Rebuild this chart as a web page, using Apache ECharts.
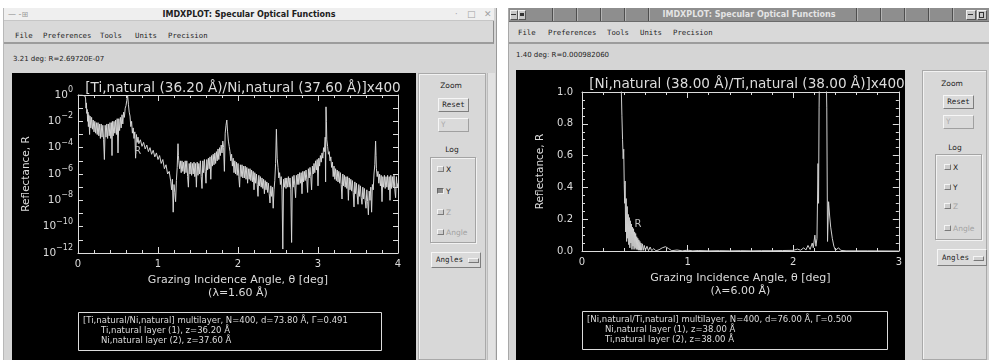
<!DOCTYPE html>
<html>
<head>
<meta charset="utf-8">
<title>IMDXPLOT: Specular Optical Functions</title>
<script src="https://cdn.jsdelivr.net/npm/echarts@6.0.0/dist/echarts.min.js"></script>
<style>
  html, body { margin: 0; padding: 0; }
  body { width: 989px; height: 360px; position: relative; overflow: hidden; background: #fff; font-family: "DejaVu Sans", sans-serif; }
  .a { position: absolute; white-space: nowrap; }
  .win { position: absolute; background: #d5d5d5; }
  .menu { position: absolute; font: 7.3px "DejaVu Sans Mono", monospace; color: #1e1e1e; line-height: 10px; }
  .status { position: absolute; font: 7px "DejaVu Sans", sans-serif; color: #222; line-height: 9px; }
  .panel { position: absolute; background: #d8d8d8; border: 1px solid #a9a9a9; box-shadow: inset 1px 1px 0 #f2f2f2; box-sizing: border-box; }
  .lbl { position: absolute; font: 7.5px "DejaVu Sans", sans-serif; color: #222; text-align: center; line-height: 9px; }
  .btn { position: absolute; background: #dadada; border: 1px solid; border-color: #f6f6f6 #7e7e7e #7e7e7e #f6f6f6; box-sizing: border-box;
         font: 7.5px "DejaVu Sans Mono", monospace; color: #1e1e1e; text-align: center; }
  .btn.off { color: #a8a8a8; border-color: #f6f6f6 #a0a0a0 #a0a0a0 #f6f6f6; text-align: left; padding-left: 2px; }
  .group { position: absolute; border: 1px solid #a4a4a4; box-shadow: 1px 1px 0 #f2f2f2, inset 1px 1px 0 #f2f2f2; box-sizing: border-box; }
  .chk { position: absolute; width: 7px; height: 6px; background: #cdcdcd; border: 1px solid; border-color: #f4f4f4 #7a7a7a #7a7a7a #f4f4f4; box-sizing: border-box; }
  .chk.on { background: #8c8c8c; border-color: #666 #eee #eee #666; }
  .ck { position: absolute; font: 7.5px "DejaVu Sans", sans-serif; color: #222; line-height: 9px; }
  .ck.off { color: #a2a2a2; }
  .tb { position: absolute; width: 6px; height: 8px; background: #c8c8c8; border: 1px solid; border-color: #f0f0f0 #555 #555 #f0f0f0; }
  .chart { position: absolute; background: #000; }
</style>
</head>
<body>

<!-- left window -->
<div class="win" style="left:3px;top:8px;width:492px;height:352px;border-left:1px solid #b8b8b8;border-right:1px solid #9a9a9a;"></div>
<div class="a" style="left:4px;top:8px;width:490px;height:12px;background:#efefef;border-bottom:1px solid #c6c6c6;"></div>
<div class="a" style="left:4px;top:8px;width:490px;text-align:center;font:bold 8px 'DejaVu Sans';line-height:13px;color:#202020;">IMDXPLOT: Specular Optical Functions</div>
<div class="a" style="left:8px;top:8px;font:8px 'DejaVu Sans';line-height:13px;color:#9a9a9a;">— -⊞</div>
<div class="a" style="left:455px;top:8px;font:8px 'DejaVu Sans';line-height:13px;color:#a0a0a0;">·</div>
<div class="a" style="left:467px;top:8px;font:9px 'DejaVu Sans';line-height:13px;color:#a0a0a0;">□</div>
<div class="a" style="left:484px;top:8px;font:9px 'DejaVu Sans';line-height:13px;color:#a0a0a0;">✕</div>
<div class="a" style="left:4px;top:21px;width:489px;height:21px;background:#d9d9d9;border-bottom:2px solid #9c9c9c;border-right:1px solid #8c8c8c;"></div>
<div class="menu" style="left:15px;top:31px;">File</div>
<div class="menu" style="left:43px;top:31px;">Preferences</div>
<div class="menu" style="left:100px;top:31px;">Tools</div>
<div class="menu" style="left:135px;top:31px;">Units</div>
<div class="menu" style="left:168px;top:31px;">Precision</div>
<div class="status" style="left:13px;top:55px;">3.21 deg: R=2.69720E-07</div>

<div class="panel" style="left:418px;top:73px;width:68px;height:287px;"></div>
<div class="lbl" style="left:436px;top:81px;width:30px;">Zoom</div>
<div class="btn" style="left:438px;top:98px;width:31px;height:14px;line-height:12px;">Reset</div>
<div class="btn off" style="left:438px;top:118px;width:31px;height:14px;line-height:12px;">Y</div>
<div class="lbl" style="left:437px;top:145px;width:30px;">Log</div>
<div class="group" style="left:430px;top:157px;width:46px;height:86px;"></div>
<div class="chk" style="left:437px;top:166px;"></div><div class="ck" style="left:446px;top:165px;">X</div>
<div class="chk on" style="left:437px;top:188px;"></div><div class="ck" style="left:446px;top:187px;">Y</div>
<div class="chk" style="left:437px;top:209px;"></div><div class="ck off" style="left:446px;top:208px;">Z</div>
<div class="chk" style="left:437px;top:229px;"></div><div class="ck off" style="left:446px;top:228px;">Angle</div>
<div class="btn" style="left:431px;top:252px;width:50px;height:16px;line-height:14px;text-align:left;padding-left:4px;">Angles</div>
<div class="a" style="left:468px;top:258px;width:9px;height:3px;background:#d0d0d0;border:1px solid;border-color:#f4f4f4 #777 #777 #f4f4f4;"></div>
<div class="a" style="left:487px;top:73px;width:7px;height:287px;background:#e2e2e2;border-left:1px solid #bdbdbd;"></div>

<!-- right window -->
<div class="win" style="left:508px;top:8px;width:481px;height:352px;border-left:1px solid #a8a8a8;"></div>
<div class="a" style="left:509px;top:8px;width:480px;height:13px;background:#8e8e8e;border-bottom:1px solid #6a6a6a;"></div>
<div class="a" style="left:530px;top:8px;width:140px;height:13px;background:repeating-linear-gradient(90deg,transparent 0 22px,#4e4e4e 22px 23px,#b4b4b4 23px 24px);"></div>
<div class="a" style="left:834px;top:8px;width:124px;height:13px;background:repeating-linear-gradient(90deg,transparent 0 22px,#4e4e4e 22px 23px,#b4b4b4 23px 24px);"></div>
<div class="a" style="left:660px;top:8px;width:176px;height:13px;background:#8e8e8e;"></div>
<div class="a" style="left:509px;top:8px;width:480px;text-align:center;font:bold 8px 'DejaVu Sans';line-height:14px;color:#e4e4e4;">IMDXPLOT: Specular Optical Functions</div>
<div class="tb" style="left:510px;top:10px;"></div>
<div class="tb" style="left:518px;top:10px;"></div>
<div class="a" style="left:511px;top:14px;width:5px;height:1px;background:#333;"></div>
<div class="a" style="left:520px;top:13px;width:4px;height:3px;background:#333;"></div>
<div class="tb" style="left:966px;top:10px;width:8px;"></div>
<div class="tb" style="left:977px;top:10px;width:8px;"></div>
<div class="a" style="left:968px;top:14px;width:5px;height:1px;background:#333;"></div>
<div class="a" style="left:979px;top:12px;width:3px;height:4px;border:1px solid #333;"></div>
<div class="a" style="left:509px;top:22px;width:480px;height:20px;background:#d9d9d9;border-bottom:2px solid #9c9c9c;"></div>
<div class="menu" style="left:518px;top:28px;">File</div>
<div class="menu" style="left:548px;top:28px;">Preferences</div>
<div class="menu" style="left:607px;top:28px;">Tools</div>
<div class="menu" style="left:640px;top:28px;">Units</div>
<div class="menu" style="left:673px;top:28px;">Precision</div>
<div class="status" style="left:516px;top:51px;">1.40 deg: R=0.000982060</div>

<div class="panel" style="left:922px;top:70px;width:65px;height:290px;"></div>
<div class="lbl" style="left:937px;top:79px;width:30px;">Zoom</div>
<div class="btn" style="left:943px;top:95px;width:31px;height:14px;line-height:12px;">Reset</div>
<div class="btn off" style="left:943px;top:115px;width:31px;height:14px;line-height:12px;">Y</div>
<div class="lbl" style="left:940px;top:143px;width:30px;">Log</div>
<div class="group" style="left:935px;top:154px;width:47px;height:86px;"></div>
<div class="chk" style="left:944px;top:164px;"></div><div class="ck" style="left:953px;top:163px;">X</div>
<div class="chk" style="left:944px;top:184px;"></div><div class="ck" style="left:953px;top:183px;">Y</div>
<div class="chk" style="left:944px;top:203px;"></div><div class="ck off" style="left:953px;top:202px;">Z</div>
<div class="chk" style="left:944px;top:225px;"></div><div class="ck off" style="left:953px;top:224px;">Angle</div>
<div class="btn" style="left:937px;top:249px;width:50px;height:17px;line-height:15px;text-align:left;padding-left:4px;">Angles</div>
<div class="a" style="left:973px;top:256px;width:9px;height:3px;background:#d0d0d0;border:1px solid;border-color:#f4f4f4 #777 #777 #f4f4f4;"></div>

<div id="leftChart" class="chart" style="left:12px;top:73px;width:404px;height:287px;"></div>
<div id="rightChart" class="chart" style="left:516px;top:70px;width:389px;height:290px;"></div>

<script>
// ---- left plot: Ti/Ni multilayer, lambda 1.60 A, log10(R) ----
const tiNiLogR = [
  [0, 0], [0.05, 0], [0.09, -0.1], [0.095, -0.3], [0.1, -1.0], [0.105, -0.6], [0.11, -1.4], [0.115, -1.1],
  [0.12, -2.0], [0.125, -1.3], [0.13, -2.4], [0.135, -1.5], [0.14, -2.2], [0.145, -3.0], [0.15, -1.6],
  [0.16, -2.5], [0.17, -1.7], [0.18, -2.6], [0.19, -1.9], [0.2, -2.8], [0.21, -2.0], [0.22, -2.9],
  [0.23, -2.1], [0.24, -3.0], [0.25, -2.1], [0.26, -3.1], [0.27, -2.2], [0.28, -3.3], [0.29, -2.2],
  [0.3, -3.2], [0.31, -2.3], [0.32, -3.4], [0.33, -4.9], [0.34, -2.3], [0.35, -3.2], [0.36, -2.2],
  [0.37, -3.3], [0.38, -2.2], [0.39, -3.1], [0.4, -2.1], [0.41, -3.3], [0.42, -2.1], [0.425, -4.6],
  [0.43, -2.0], [0.44, -3.1], [0.45, -2.0], [0.46, -2.9], [0.47, -1.9], [0.48, -3.0], [0.49, -1.8],
  [0.5, -4.4], [0.51, -1.8], [0.52, -2.7], [0.53, -1.7], [0.54, -2.5], [0.55, -1.5], [0.56, -2.2],
  [0.57, -1.3], [0.58, -1.7], [0.59, -1.0], [0.6, -0.8], [0.61, -0.4], [0.62, 0], [0.625, -0.1],
  [0.63, -0.7], [0.64, -1.3], [0.65, -1.6], [0.66, -2.4], [0.67, -2.0], [0.68, -2.9], [0.69, -2.5],
  [0.7, -3.3], [0.71, -2.8], [0.72, -4.8], [0.73, -3.0], [0.74, -3.6], [0.75, -3.2], [0.76, -3.7],
  [0.78, -3.4], [0.8, -3.9], [0.82, -3.6], [0.84, -4.1], [0.86, -3.8], [0.88, -4.3], [0.9, -4.0],
  [0.92, -4.5], [0.94, -4.2], [0.96, -4.7], [0.98, -4.4], [1.0, -4.9], [1.02, -4.6], [1.04, -5.2],
  [1.06, -4.9], [1.08, -5.6], [1.1, -5.3], [1.12, -6.0], [1.14, -5.8], [1.16, -6.6], [1.17, -7.2],
  [1.18, -6.4], [1.19, -8.9], [1.2, -6.8], [1.21, -7.4], [1.22, -8.1], [1.23, -6.5], [1.24, -5.5],
  [1.25, -3.7], [1.255, -4.6], [1.26, -5.0], [1.27, -5.6], [1.28, -5.0], [1.29, -5.9], [1.3, -5.0],
  [1.31, -5.8], [1.32, -5.1], [1.33, -6.0], [1.34, -5.0], [1.35, -5.9], [1.36, -5.0], [1.37, -6.2],
  [1.38, -7.0], [1.39, -5.2], [1.4, -6.0], [1.41, -5.1], [1.42, -6.1], [1.43, -5.2], [1.44, -6.0],
  [1.45, -5.1], [1.46, -6.2], [1.47, -5.2], [1.48, -7.0], [1.49, -5.1], [1.5, -6.1], [1.51, -5.2],
  [1.52, -6.0], [1.53, -5.0], [1.54, -6.2], [1.55, -7.1], [1.56, -5.0], [1.57, -5.9], [1.58, -4.9],
  [1.59, -5.8], [1.6, -6.7], [1.61, -4.9], [1.62, -5.7], [1.63, -4.8], [1.64, -5.6], [1.65, -4.7],
  [1.66, -6.4], [1.67, -4.6], [1.68, -5.4], [1.69, -4.5], [1.7, -5.3], [1.71, -4.4], [1.72, -5.2],
  [1.73, -4.3], [1.74, -5.0], [1.75, -4.1], [1.76, -4.9], [1.77, -4.0], [1.78, -4.6], [1.79, -3.8],
  [1.8, -4.4], [1.81, -3.5], [1.82, -4.0], [1.83, -5.8], [1.84, -2.9], [1.85, -2.3], [1.86, -1.9],
  [1.87, -2.8], [1.88, -3.5], [1.89, -3.9], [1.9, -4.3], [1.91, -5.0], [1.92, -4.5], [1.93, -5.4],
  [1.94, -4.8], [1.95, -5.9], [1.96, -5.0], [1.97, -6.0], [1.98, -5.1], [1.99, -6.1], [2.0, -5.2],
  [2.01, -6.2], [2.02, -7.0], [2.03, -5.3], [2.04, -6.2], [2.05, -5.3], [2.06, -6.3], [2.07, -5.4],
  [2.08, -6.3], [2.09, -5.4], [2.1, -6.4], [2.11, -5.5], [2.12, -6.7], [2.13, -5.6], [2.14, -6.4],
  [2.15, -5.6], [2.16, -6.5], [2.17, -5.7], [2.18, -6.6], [2.19, -5.8], [2.2, -7.2], [2.21, -5.9],
  [2.22, -6.7], [2.23, -6.0], [2.24, -6.8], [2.25, -7.7], [2.26, -6.1], [2.27, -6.9], [2.28, -6.2],
  [2.29, -7.0], [2.3, -6.3], [2.31, -7.1], [2.32, -6.4], [2.33, -7.5], [2.34, -6.5], [2.35, -7.2],
  [2.36, -6.6], [2.37, -7.4], [2.38, -6.7], [2.39, -7.5], [2.4, -8.2], [2.41, -6.9], [2.42, -7.7],
  [2.43, -7.0], [2.44, -8.6], [2.45, -7.2], [2.46, -6.5], [2.47, -5.2], [2.48, -2.6], [2.485, -3.8],
  [2.49, -4.8], [2.5, -5.5], [2.51, -6.3], [2.52, -5.9], [2.53, -6.8], [2.54, -6.2], [2.55, -7.2],
  [2.56, -11.7], [2.57, -6.4], [2.58, -7.0], [2.59, -6.3], [2.6, -7.1], [2.61, -6.3], [2.62, -7.0],
  [2.63, -6.2], [2.64, -7.0], [2.65, -6.3], [2.66, -7.2], [2.67, -11.2], [2.68, -6.2], [2.69, -7.0],
  [2.7, -6.1], [2.71, -6.9], [2.72, -7.8], [2.73, -6.1], [2.74, -6.8], [2.75, -6.0], [2.76, -6.8],
  [2.77, -5.9], [2.78, -6.7], [2.79, -5.9], [2.8, -7.5], [2.81, -5.8], [2.82, -6.6], [2.83, -5.8],
  [2.84, -6.5], [2.85, -5.7], [2.86, -6.4], [2.87, -7.4], [2.88, -5.6], [2.89, -6.3], [2.9, -5.5],
  [2.91, -6.2], [2.92, -7.2], [2.93, -5.4], [2.94, -6.0], [2.95, -5.2], [2.96, -5.9], [2.97, -5.0],
  [2.98, -5.7], [2.99, -4.9], [3.0, -6.9], [3.01, -4.8], [3.02, -5.4], [3.03, -4.6], [3.04, -5.1],
  [3.05, -4.4], [3.06, -4.8], [3.07, -4.0], [3.08, -4.3], [3.09, -3.2], [3.095, -6.6], [3.1, -0.9],
  [3.105, -2.0], [3.11, -3.4], [3.12, -3.9], [3.13, -4.5], [3.14, -4.3], [3.15, -5.0], [3.16, -4.7],
  [3.17, -5.5], [3.18, -5.1], [3.19, -6.2], [3.2, -5.4], [3.21, -6.4], [3.22, -5.6], [3.23, -6.5],
  [3.24, -5.7], [3.25, -6.6], [3.26, -5.8], [3.27, -6.7], [3.28, -5.9], [3.29, -6.8], [3.3, -7.9],
  [3.31, -6.0], [3.32, -6.9], [3.33, -6.1], [3.34, -7.0], [3.35, -6.2], [3.36, -7.1], [3.37, -6.2],
  [3.38, -8.0], [3.39, -6.3], [3.4, -7.2], [3.41, -6.4], [3.42, -7.3], [3.43, -6.5], [3.44, -7.4],
  [3.45, -8.5], [3.46, -6.6], [3.47, -7.5], [3.48, -6.7], [3.49, -7.6], [3.5, -8.3], [3.51, -6.8],
  [3.52, -7.7], [3.53, -6.9], [3.54, -7.8], [3.55, -8.3], [3.56, -7.0], [3.57, -7.9], [3.58, -7.1],
  [3.59, -8.0], [3.6, -8.6], [3.61, -7.2], [3.62, -8.1], [3.63, -9.1], [3.64, -7.3], [3.65, -8.0],
  [3.66, -7.0], [3.67, -8.9], [3.68, -6.8], [3.69, -7.2], [3.7, -6.0], [3.71, -5.3], [3.72, -3.5],
  [3.725, -4.6], [3.73, -5.6], [3.74, -6.2], [3.75, -5.8], [3.76, -6.7], [3.77, -6.0], [3.78, -6.9],
  [3.79, -6.1], [3.8, -8.1], [3.81, -6.2], [3.82, -7.0], [3.83, -6.1], [3.84, -7.1], [3.85, -6.2],
  [3.86, -7.0], [3.87, -6.1], [3.88, -7.2], [3.89, -6.2], [3.9, -8.0], [3.91, -6.1], [3.92, -7.1],
  [3.93, -6.2], [3.94, -7.0], [3.95, -6.1], [3.96, -7.2], [3.97, -7.8], [3.98, -6.2], [3.99, -7.0],
  [4.0, -6.7]
];
// ---- right plot: Ni/Ti multilayer, lambda 6.00 A, linear R ----
const niTiR = [
  [0, 1.2], [0.36, 1.2], [0.372, 1.02], [0.378, 0.85], [0.384, 0.7], [0.39, 0.58], [0.395, 0.64],
  [0.4, 0.42], [0.404, 0.3], [0.408, 0.44], [0.413, 0.12], [0.418, 0.33], [0.423, 0.06], [0.428, 0.28],
  [0.433, 0.08], [0.438, 0.23], [0.443, 0.04], [0.448, 0.21], [0.453, 0.02], [0.458, 0.19],
  [0.463, 0.05], [0.468, 0.17], [0.473, 0.01], [0.478, 0.15], [0.483, 0.03], [0.488, 0.14],
  [0.493, 0.01], [0.498, 0.12], [0.503, 0.02], [0.508, 0.11], [0.513, 0.01], [0.518, 0.09],
  [0.523, 0.01], [0.528, 0.08], [0.533, 0.005], [0.538, 0.07], [0.543, 0.005], [0.548, 0.06],
  [0.553, 0.004], [0.558, 0.05], [0.565, 0.004], [0.572, 0.045], [0.58, 0.004], [0.59, 0.035],
  [0.6, 0.003], [0.615, 0.03], [0.63, 0.002], [0.645, 0.025], [0.66, 0.002], [0.68, 0.015],
  [0.7, 0.001], [0.73, 0.008], [0.76, 0.02], [0.79, 0.027], [0.82, 0.015], [0.85, 0.002], [0.9, 0.006],
  [0.95, 0.001], [1.0, 0.005], [1.05, 0.001], [1.1, 0.003], [1.2, 0.001], [1.3, 0.002], [1.4, 0.001],
  [1.5, 0.002], [1.6, 0.001], [1.7, 0.002], [1.8, 0.002], [1.9, 0.003], [2.0, 0.004], [2.04, 0.012],
  [2.07, 0.005], [2.1, 0.02], [2.12, 0.006], [2.14, 0.035], [2.16, 0.01], [2.18, 0.05], [2.19, 0.02],
  [2.205, 0.1], [2.215, 0.03], [2.225, 0.08], [2.235, 0.55], [2.24, 0.3], [2.245, 0.9], [2.25, 1.2],
  [2.31, 1.2], [2.318, 0.9], [2.325, 0.06], [2.335, 0.31], [2.345, 0.22], [2.355, 0.15], [2.37, 0.08],
  [2.385, 0.03], [2.4, 0.005], [2.43, 0.02], [2.45, 0.004], [2.5, 0.001], [2.7, 0.001], [3.0, 0]
];
const tiNiRLabel = [0.745, -4.3];   // where the "R" tag sits (angle, log10 R)
const niTiRLabel = [0.53, 0.17];    // (angle, R)

const leftTitle = '[Ti,natural (36.20 Å)/Ni,natural (37.60 Å)]x400';
const rightTitle = '[Ni,natural (38.00 Å)/Ti,natural (38.00 Å)]x400';
const xName = 'Grazing Incidence Angle, θ [deg]';
const leftLambda = '(λ=1.60 Å)';
const rightLambda = '(λ=6.00 Å)';
const yName = 'Reflectance, R';
const leftInfo = [
  '[Ti,natural/Ni,natural] multilayer, N=400, d=73.80 Å, Γ=0.491',
  'Ti,natural layer (1), z=36.20 Å',
  'Ni,natural layer (2), z=37.60 Å'
];
const rightInfo = [
  '[Ni,natural/Ti,natural] multilayer, N=400, d=76.00 Å, Γ=0.500',
  'Ni,natural layer (1), z=38.00 Å',
  'Ti,natural layer (2), z=38.00 Å'
];

const ink = '#dcdcdc';
const face = 'DejaVu Sans';

function frame(opts) {
  return Object.assign({
    splitLine: { show: false },
    axisLine: { show: true, onZero: false, lineStyle: { color: ink, width: 1 } },
    axisTick: { show: true, inside: true, length: 6, lineStyle: { color: ink } },
    minorTick: { show: false },
    axisLabel: { show: false }
  }, opts);
}

function infoBox(box, lines) {
  const els = [{
    type: 'rect', silent: true,
    shape: { x: box.x + 0.5, y: box.y + 0.5, width: box.w, height: box.h },
    style: { fill: 'none', stroke: ink, lineWidth: 1 }
  }];
  lines.forEach((t, i) => {
    els.push({
      type: 'text', silent: true,
      x: i === 0 ? box.x + 5 : box.x + 23, y: box.y + 9 + i * 10,
      style: { text: t, fill: ink, font: '8.5px "DejaVu Sans"', verticalAlign: 'middle' }
    });
  });
  return els;
}

const minorX = { show: true, splitNumber: 5, length: 3, lineStyle: { color: ink } };

// left chart (log scale)
const leftChart = echarts.init(document.getElementById('leftChart'));
leftChart.setOption({
  backgroundColor: '#000',
  animation: false,
  textStyle: { fontFamily: face },
  title: {
    text: leftTitle, left: 226, top: 3, textAlign: 'center',
    textStyle: { color: ink, fontSize: 13.6, fontWeight: 'normal', fontFamily: face }
  },
  grid: { left: 66, right: 18, top: 22, bottom: 107 },
  xAxis: [
    frame({
      type: 'value', min: 0, max: 4, interval: 1, position: 'bottom', minorTick: minorX,
      axisLabel: { show: true, color: ink, fontSize: 10, margin: 6 },
      name: xName + '\n' + leftLambda, nameLocation: 'middle', nameGap: 21,
      nameTextStyle: { color: ink, fontSize: 11, lineHeight: 12.5, fontFamily: face }
    }),
    frame({ type: 'value', min: 0, max: 4, interval: 1, position: 'top', minorTick: minorX })
  ],
  yAxis: [
    frame({
      type: 'log', logBase: 10, min: 1e-12, max: 1, interval: 1, position: 'left',
      axisTick: { show: true, inside: true, length: 5, lineStyle: { color: ink } },
      axisLabel: {
        show: true, margin: 5,
        formatter: v => {
          const e = Math.round(Math.log10(v));
          if (e % 2 !== 0) return '';
          return '{b|10}{s|' + (e < 0 ? '−' : '') + Math.abs(e) + '}';
        },
        rich: {
          b: { fontSize: 10.5, color: ink, fontFamily: face },
          s: { fontSize: 8, color: ink, fontFamily: face, padding: [0, 0, 10, 0] }
        }
      },
      name: yName, nameLocation: 'middle', nameGap: 45,
      nameTextStyle: { color: ink, fontSize: 10.5, fontFamily: face }
    }),
    frame({
      type: 'log', logBase: 10, min: 1e-12, max: 1, interval: 1, position: 'right',
      axisTick: { show: true, inside: true, length: 5, lineStyle: { color: ink } }
    })
  ],
  series: [{
    type: 'line',
    data: tiNiLogR.map(p => [p[0], Math.pow(10, p[1])]),
    symbol: 'none', clip: true, silent: true,
    lineStyle: { color: '#d4d4d4', width: 1 },
    markPoint: {
      symbol: 'circle', symbolSize: 0, silent: true,
      label: { show: true, formatter: 'R', color: '#bdbdbd', fontSize: 10, position: 'inside' },
      data: [{ coord: [tiNiRLabel[0], Math.pow(10, tiNiRLabel[1])] }]
    }
  }],
  graphic: infoBox({ x: 66, y: 239, w: 303, h: 38 }, leftInfo)
});

// right chart (linear scale)
const rightChart = echarts.init(document.getElementById('rightChart'));
rightChart.setOption({
  backgroundColor: '#000',
  animation: false,
  textStyle: { fontFamily: face },
  title: {
    text: rightTitle, left: 226, top: 2, textAlign: 'center',
    textStyle: { color: ink, fontSize: 13.6, fontWeight: 'normal', fontFamily: face }
  },
  grid: { left: 66, right: 2, top: 22, bottom: 109 },
  xAxis: [
    frame({
      type: 'value', min: 0, max: 3, interval: 1, position: 'bottom', minorTick: minorX,
      axisLabel: { show: true, color: ink, fontSize: 10, margin: 6 },
      name: xName + '\n' + rightLambda, nameLocation: 'middle', nameGap: 21,
      nameTextStyle: { color: ink, fontSize: 11, lineHeight: 12.5, fontFamily: face }
    }),
    frame({ type: 'value', min: 0, max: 3, interval: 1, position: 'top', minorTick: minorX })
  ],
  yAxis: [
    frame({
      type: 'value', min: 0, max: 1, interval: 0.2, position: 'left',
      minorTick: { show: true, splitNumber: 4, length: 3, lineStyle: { color: ink } },
      axisLabel: { show: true, color: ink, fontSize: 10, margin: 9, formatter: v => v.toFixed(1) },
      name: yName, nameLocation: 'middle', nameGap: 30,
      nameTextStyle: { color: ink, fontSize: 10.5, fontFamily: face }
    }),
    frame({
      type: 'value', min: 0, max: 1, interval: 0.2, position: 'right',
      minorTick: { show: true, splitNumber: 4, length: 3, lineStyle: { color: ink } }
    })
  ],
  series: [{
    type: 'line',
    data: niTiR,
    symbol: 'none', clip: true, silent: true,
    lineStyle: { color: '#cfcfcf', width: 1 },
    markPoint: {
      symbol: 'circle', symbolSize: 0, silent: true,
      label: { show: true, formatter: 'R', color: '#bdbdbd', fontSize: 10, position: 'inside' },
      data: [{ coord: niTiRLabel }]
    }
  }],
  graphic: infoBox({ x: 66, y: 241, w: 305, h: 38 }, rightInfo)
});
</script>
</body>
</html>
